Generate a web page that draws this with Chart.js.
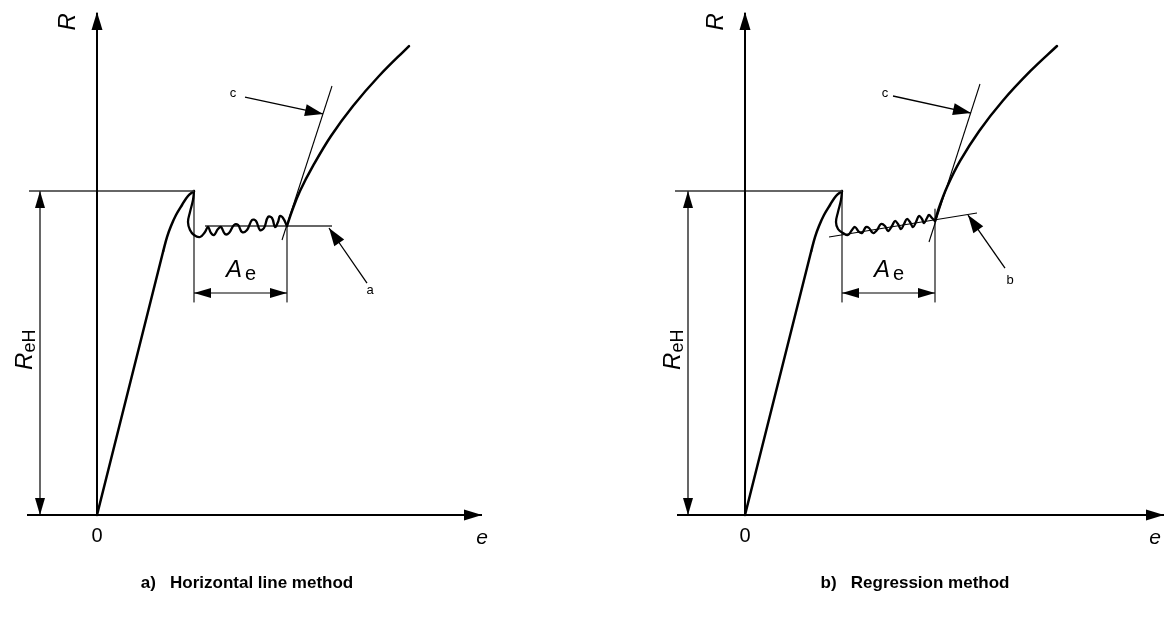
<!DOCTYPE html>
<html><head><meta charset="utf-8">
<script src="https://cdn.jsdelivr.net/npm/chart.js@4/dist/chart.umd.min.js"></script>
<style>
html,body{margin:0;padding:0;background:#fff;}
#wrap{position:relative;width:1169px;height:628px;overflow:hidden;}
.pane{position:absolute;top:0;height:628px;}
canvas{display:block;}
</style></head><body>
<div id="wrap">
<div class="pane" style="left:0;width:584px"><canvas id="cA" width="584" height="628"></canvas></div>
<div class="pane" style="left:584px;width:585px"><canvas id="cB" width="585" height="628"></canvas></div>
</div>
<script>
// ---- data (e = extension, R = stress; R_eH = 100) ----
const REH = 100;
const loadLinE = [0, 0.6625];
const loadLinR = [0, 81.48];
const loadE = [0.6625, 0.70, 0.74, 0.79, 0.85, 0.91, 0.97];
const loadR = [81.48, 85.80, 89.20, 92.59, 95.68, 98.46, 100];

// a) horizontal line method
const waveAE = [0.97,0.96,0.93,0.91,0.93,0.97,1.03,1.08,1.11,1.14,1.17,1.21,1.24,1.28,1.32,1.37,1.41,1.45,1.50,1.55,1.59,1.63,1.67,1.71,1.75,1.78,1.81,1.83,1.86,1.90];
const waveAR = [100,97.22,93.52,90.43,87.96,86.42,85.80,87.35,88.89,87.04,86.42,88.27,88.89,86.73,87.04,89.51,89.51,87.35,87.96,91.05,90.74,87.96,88.58,91.98,91.67,88.89,90.43,92.28,91.67,89.20];
const riseAE = [1.90, 1.95, 2.03, 2.16, 2.34, 2.56, 2.82, 3.12];
const riseAR = [89.20, 93.83, 100.0, 107.72, 116.98, 126.23, 135.49, 144.75];
const tanAE = [1.85, 2.35];
const tanAR = [84.88, 132.41];
const horizAE = [1.08, 2.35];
const horizAR = [89.20, 89.20];

// b) regression method
const waveBE = [0.97,0.96,0.93,0.91,0.93,0.98,1.03,1.07,1.10,1.14,1.17,1.21,1.24,1.28,1.32,1.36,1.40,1.43,1.47,1.50,1.53,1.56,1.59,1.62,1.65,1.68,1.71,1.74,1.77,1.79,1.82,1.84,1.87,1.90];
const waveBR = [100,97.22,93.52,90.43,88.27,87.04,86.42,87.96,88.89,87.35,87.04,88.89,88.58,87.04,87.96,89.81,89.20,87.65,89.20,90.74,89.81,88.27,89.81,91.36,90.43,88.89,90.43,92.28,91.36,90.12,91.67,92.59,91.67,90.74];
const riseBE = [1.90, 1.946, 2.025, 2.151, 2.342, 2.576, 2.855, 3.12];
const riseBR = [90.74, 95.37, 101.54, 109.26, 118.52, 127.78, 137.04, 144.75];
const tanBE = [1.84, 2.35];
const tanBR = [84.26, 133.02];
const regBE = [0.84, 2.32];
const regBR = [85.80, 93.21];

// Ae range (start/end of yield plateau)
const aeA = [0.97, 1.90];
const aeB = [0.97, 1.90];

const titles = ['a)   Horizontal line method', 'b)   Regression method'];
const FONT = '"Liberation Sans", Arial, sans-serif';

function pts(xs, ys){ return xs.map((x,i)=>({x:x, y:ys[i]})); }
function ds(data, w, col, tension){
  return {data:data, showLine:true, borderColor:col||'#000', borderWidth:w, pointRadius:0, tension:tension||0, fill:false, borderCapStyle:'round', borderJoinStyle:'round'};
}

function arrowHead(ctx, fx, fy, tx, ty, L, W){
  const a = Math.atan2(ty-fy, tx-fx);
  ctx.save();
  ctx.translate(tx, ty); ctx.rotate(a);
  ctx.beginPath(); ctx.moveTo(0,0); ctx.lineTo(-L, -W); ctx.lineTo(-L, W); ctx.closePath();
  ctx.fillStyle = '#000'; ctx.fill();
  ctx.restore();
}
function rich(ctx, x, y, parts, rot){
  ctx.save();
  ctx.translate(x, y); if (rot) ctx.rotate(rot);
  ctx.textBaseline = 'middle'; ctx.textAlign = 'left'; ctx.fillStyle = '#000';
  let total = 0;
  parts.forEach(p=>{ ctx.font = p.f; p.w = ctx.measureText(p.t).width; total += p.w + (p.gap||0); });
  let cx = -total/2;
  parts.forEach(p=>{ ctx.font = p.f; cx += (p.gap||0); ctx.fillText(p.t, cx, p.dy||0); cx += p.w; });
  ctx.restore();
}

const annot = {
  id:'annot',
  afterDatasetsDraw(chart, args, o){
    const ctx = chart.ctx, xs = chart.scales.x, ys = chart.scales.y;
    const P = (e,r)=>[xs.getPixelForValue(e), ys.getPixelForValue(r)];
    o.arrows.forEach(a=>{
      const f = P(a.from[0], a.from[1]), t = P(a.to[0], a.to[1]);
      arrowHead(ctx, f[0], f[1], t[0], t[1], a.L, a.W);
    });
    o.texts.forEach(t=>{
      const p = P(t.at[0], t.at[1]);
      rich(ctx, p[0], p[1], t.parts, t.rot);
    });
  }
};
Chart.register(annot);

function makeChart(id, xmin, xmax, cfg){
  const ymin = -(628-515)/3.24, ymax = 515/3.24;
  const S = cfg;
  const thin = {borderCapStyle:'butt'};
  const datasets = [
    Object.assign(ds(pts([0,0],[0,155.0]), 2), thin),                    // R axis
    Object.assign(ds(pts([S.xAxis[0], S.xAxis[1]],[0,0]), 2), thin),     // e axis
    Object.assign(ds(pts([S.topL, S.ae[0]],[REH,REH]), 1.5, '#333'), thin), // R_eH reference line
    Object.assign(ds(pts([-0.57,-0.57],[0,REH]), 1.2), thin),            // R_eH dimension
    ds(pts(loadLinE, loadLinR), 2.5, '#000', 0),
    ds(pts(loadE, loadR), 2.5, '#000', 0.4),
    ds(pts(S.waveE, S.waveR), 2.3, '#000', 0.4),
    ds(pts(S.riseE, S.riseR), 2.5, '#000', 0.4),
    Object.assign(ds(pts(S.tanE, S.tanR), 1.1), thin),
    Object.assign(ds(pts(S.refE, S.refR), S.refW, S.refC), thin),
    Object.assign(ds(pts([S.ae[0],S.ae[0]],[REH,65.74]), 1.1), thin),
    Object.assign(ds(pts([S.ae[1],S.ae[1]],[S.vTop,65.74]), 1.1), thin),
    Object.assign(ds(pts([S.ae[0],S.ae[1]],[68.52,68.52]), 1.1), thin),
    Object.assign(ds(pts(S.leadE, S.leadR), 1.3), thin),
    Object.assign(ds(pts(S.cE, S.cR), 1.3), thin)
  ];
  return new Chart(document.getElementById(id), {
    type:'scatter',
    data:{datasets:datasets},
    options:{
      responsive:false, animation:false, events:[],
      layout:{padding:0},
      scales:{
        x:{type:'linear', min:xmin, max:xmax, display:false},
        y:{type:'linear', min:ymin, max:ymax, display:false}
      },
      plugins:{
        legend:{display:false}, tooltip:{enabled:false},
        annot:{
          arrows:[
            {from:[0,140], to:[0,155.25], L:18, W:5.5},
            {from:[S.xAxis[1]-0.3,0], to:[S.xAxis[1],0], L:18, W:5.5},
            {from:[-0.57,80], to:[-0.57,REH], L:17, W:5},
            {from:[-0.57,20], to:[-0.57,0], L:17, W:5},
            {from:[S.ae[0]+0.3,68.52], to:[S.ae[0],68.52], L:17, W:5},
            {from:[S.ae[1]-0.3,68.52], to:[S.ae[1],68.52], L:17, W:5},
            {from:[S.leadE[0],S.leadR[0]], to:[S.leadE[1],S.leadR[1]], L:18, W:6},
            {from:[S.cE[0],S.cR[0]], to:[S.cE[1],S.cR[1]], L:18, W:6}
          ],
          texts:[
            {at:[-0.29,152.2], rot:-Math.PI/2, parts:[{t:'R', f:'italic 24px '+FONT}]},
            {at:[0,-6.5], parts:[{t:'0', f:'20px '+FONT}]},
            {at:[S.eLab,-7.1], parts:[{t:'e', f:'italic 21px '+FONT}]},
            {at:[-0.72,51], rot:-Math.PI/2, parts:[{t:'R', f:'italic 24px '+FONT},{t:'eH', f:'18px '+FONT, dy:5}]},
            {at:[1.44,75.6], parts:[{t:'A', f:'italic 24px '+FONT},{t:'e', f:'20px '+FONT, dy:4, gap:3}]},
            {at:[S.leadLab[0],S.leadLab[1]], parts:[{t:S.leadT, f:'13px '+FONT}]},
            {at:[S.cLab[0],S.cLab[1]], parts:[{t:'c', f:'13px '+FONT}]},
            {at:[S.titleE,-21], parts:[{t:S.title, f:'bold 17px '+FONT}]}
          ]
        }
      }
    }
  });
}

makeChart('cA', -0.97, -0.97+5.84, {
  xAxis:[-0.70, 3.85], topL:-0.68, ae:aeA, vTop:89.2,
  waveE:waveAE, waveR:waveAR, riseE:riseAE, riseR:riseAR, tanE:tanAE, tanR:tanAR,
  refE:horizAE, refR:horizAR, refW:1.6, refC:'#333',
  leadE:[2.70,2.32], leadR:[71.6,88.58], leadT:'a', leadLab:[2.73,69.4],
  cE:[1.48,2.26], cR:[129.0,123.77], cLab:[1.36,130.0],
  eLab:3.85, titleE:1.5, title:titles[0]
});
makeChart('cB', -1.61, -1.61+5.85, {
  xAxis:[-0.68, 4.19], topL:-0.70, ae:aeB, vTop:94.4,
  waveE:waveBE, waveR:waveBR, riseE:riseBE, riseR:riseBR, tanE:tanBE, tanR:tanBR,
  refE:regBE, refR:regBR, refW:1.1, refC:'#000',
  leadE:[2.60,2.23], leadR:[76.23,92.59], leadT:'b', leadLab:[2.65,72.53],
  cE:[1.48,2.26], cR:[129.32,124.07], cLab:[1.40,130.25],
  eLab:4.10, titleE:1.70, title:titles[1]
});
</script>
</body></html>
